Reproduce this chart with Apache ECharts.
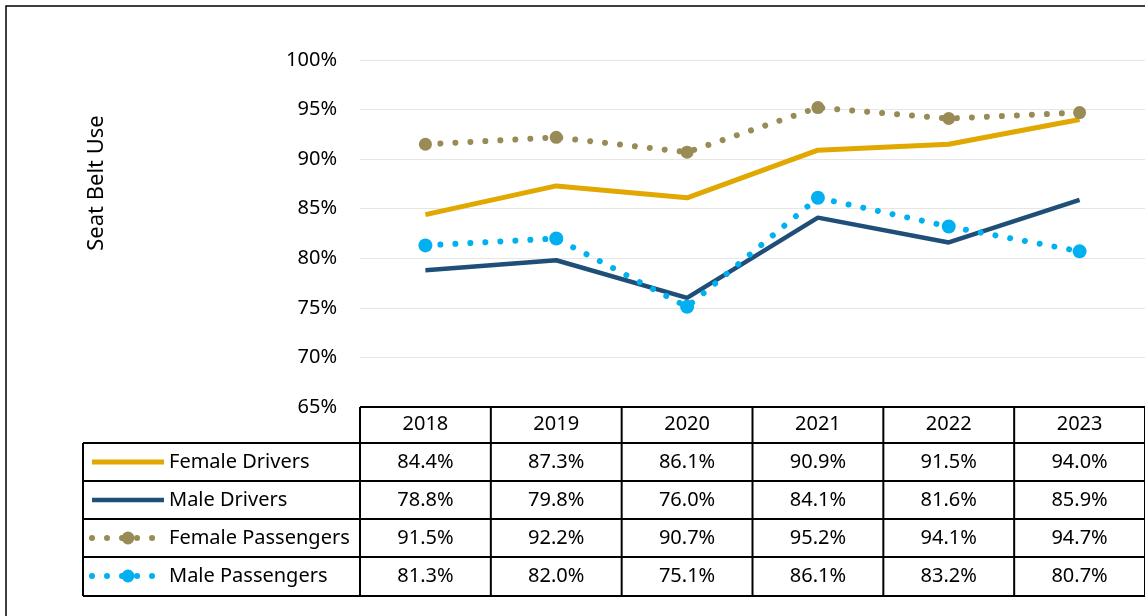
<!DOCTYPE html>
<html>
<head>
<meta charset="utf-8">
<script src="https://cdn.jsdelivr.net/npm/echarts@6/dist/echarts.min.js"></script>
<style>
  html, body { margin: 0; padding: 0; background: #fff; }
  #chart { width: 1145px; height: 616px; }
</style>
</head>
<body>
<div id="chart"></div>
<script>
// data
var years = ['2018', '2019', '2020', '2021', '2022', '2023'];
var femaleDrivers = [84.4, 87.3, 86.1, 90.9, 91.5, 94.0];
var maleDrivers = [78.8, 79.8, 76.0, 84.1, 81.6, 85.9];
var femalePassengers = [91.5, 92.2, 90.7, 95.2, 94.1, 94.7];
var malePassengers = [81.3, 82.0, 75.1, 86.1, 83.2, 80.7];
var seriesNames = ['Female Drivers', 'Male Drivers', 'Female Passengers', 'Male Passengers'];

var FONT = 'Noto Sans';
var chart = echarts.init(document.getElementById('chart'));

var dots = [0.01, 15];

chart.setOption({
    animation: false,
    grid: {left: 360, right: 0, top: 60, bottom: 209, containLabel: false},
    legend: {
        orient: 'vertical',
        left: 89,
        top: 452,
        padding: 0,
        itemWidth: 72,
        itemHeight: 16,
        itemGap: 18,
        lineStyle: {width: 'inherit'},
        textStyle: {fontFamily: FONT, fontSize: 20, color: '#000'},
        data: [
            {name: seriesNames[0], itemStyle: {opacity: 0}},
            {name: seriesNames[1], itemStyle: {opacity: 0}},
            {name: seriesNames[2]},
            {name: seriesNames[3]}
        ]
    },
    xAxis: {
        type: 'category',
        data: years,
        boundaryGap: true,
        axisLine: {show: false},
        axisTick: {show: false},
        axisLabel: {margin: 7, fontFamily: FONT, fontSize: 20, color: '#000'}
    },
    yAxis: {
        type: 'value',
        min: 65,
        max: 100,
        interval: 5,
        axisLine: {show: false},
        axisTick: {show: false},
        axisLabel: {margin: 23, fontFamily: FONT, fontSize: 20, color: '#000', formatter: '{value}%'},
        splitLine: {lineStyle: {color: '#E6E6E6', width: 1}}
    },
    series: [{
        name: seriesNames[0],
        type: 'line',
        data: femaleDrivers,
        symbol: 'none',
        color: '#E0A800',
        lineStyle: {width: 5, color: '#E0A800'}
    }, {
        name: seriesNames[1],
        type: 'line',
        data: maleDrivers,
        symbol: 'none',
        color: '#1F4E79',
        lineStyle: {width: 4.5, color: '#1F4E79'}
    }, {
        name: seriesNames[2],
        type: 'line',
        data: femalePassengers,
        symbol: 'circle',
        symbolSize: 13,
        color: '#988B56',
        itemStyle: {color: '#988B56'},
        lineStyle: {width: 6, color: '#988B56', type: dots, cap: 'round'}
    }, {
        name: seriesNames[3],
        type: 'line',
        data: malePassengers,
        symbol: 'circle',
        symbolSize: 14,
        color: '#00B0F0',
        itemStyle: {color: '#00B0F0'},
        lineStyle: {width: 6, color: '#00B0F0', type: dots, cap: 'round'}
    }]
});

// table under the plot, column bounds taken from the category axis
var allRows = [femaleDrivers, maleDrivers, femalePassengers, malePassengers];
var centers = years.map(function (y) {
    return chart.convertToPixel({xAxisIndex: 0}, y);
});
var half = (centers[1] - centers[0]) / 2;
var tableTop = chart.convertToPixel({yAxisIndex: 0}, 65);
var rowTops = [tableTop, 443, 481, 519, 557, 596];
var leftX = 83;
var plotLeft = centers[0] - half;
var plotRight = centers[centers.length - 1] + half;

var g = [];
function hline(x1, x2, y) {
    g.push({type: 'line', shape: {x1: x1, y1: y, x2: x2, y2: y}, style: {stroke: '#000', lineWidth: 2}, z: 10});
}
function vline(x, y1, y2) {
    g.push({type: 'line', shape: {x1: x, y1: y1, x2: x, y2: y2}, style: {stroke: '#000', lineWidth: 2}, z: 10});
}
hline(plotLeft, plotRight, rowTops[0]);
for (var r = 1; r < rowTops.length; r++) hline(leftX, plotRight, rowTops[r]);
vline(leftX, rowTops[1], rowTops[5]);
vline(plotLeft, rowTops[0], rowTops[5]);
centers.forEach(function (c) {
    vline(c + half, rowTops[0], rowTops[5]);
});
allRows.forEach(function (vals, i) {
    var yMid = (rowTops[i + 1] + rowTops[i + 2]) / 2;
    vals.forEach(function (v, j) {
        g.push({
            type: 'text', x: centers[j], y: yMid, z: 10,
            style: {text: v.toFixed(1) + '%', fontFamily: FONT, fontSize: 20, fill: '#000', align: 'center', verticalAlign: 'middle'}
        });
    });
});
// axis title
g.push({
    type: 'text', x: 97, y: 183, rotation: Math.PI / 2, z: 10,
    style: {text: 'Seat Belt Use', fontFamily: FONT, fontSize: 22, fill: '#000', align: 'center', verticalAlign: 'middle'}
});
// chart border
g.push({type: 'rect', shape: {x: 6, y: 6, width: 1160, height: 640}, style: {fill: 'none', stroke: '#000', lineWidth: 1.5}, z: 10});

chart.setOption({graphic: g});
</script>
</body>
</html>
